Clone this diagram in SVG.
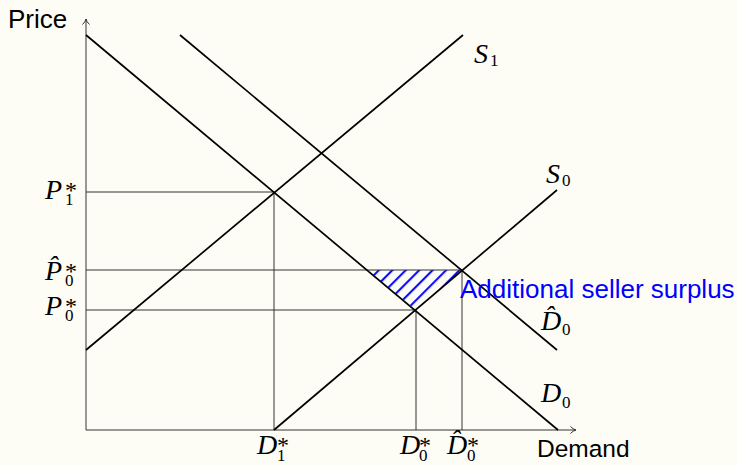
<svg xmlns="http://www.w3.org/2000/svg" width="737" height="465" viewBox="0 0 737 465">
<style>
.thin{stroke:#333;stroke-width:1;fill:none}
.thick{stroke:#000;stroke-width:1.7;fill:none}
.math{font-family:"Liberation Serif","DejaVu Serif",serif;font-size:28px;fill:#000}
.it{font-style:italic}
.sub{font-size:17px;font-style:normal}
.star{font-size:24px;font-style:normal}
.sans{font-family:"Liberation Sans","DejaVu Sans",sans-serif;font-size:26px;fill:#000}
</style>
<defs>
<marker id="arr" markerWidth="10" markerHeight="10" refX="7" refY="5" orient="auto" markerUnits="userSpaceOnUse">
<path d="M1.5,1.5 Q4,4.3 7,5 Q4,5.7 1.5,8.5" fill="none" stroke="#333" stroke-width="1"/>
</marker>
<pattern id="hatch" width="9.5" height="9.5" patternUnits="userSpaceOnUse" patternTransform="rotate(45)">
<line x1="3" y1="0" x2="3" y2="9.5" stroke="#0000ff" stroke-width="2"/>
</pattern>
</defs>
<rect width="737" height="465" fill="#fdfdf6"/>
<g id="hatched-area">
<polygon points="367,270 462,270 416,310" fill="url(#hatch)"/>
</g>
<g id="connectors">
<line class="thin" x1="86" y1="430" x2="86" y2="19" marker-end="url(#arr)"/>
<line class="thin" x1="86" y1="430" x2="576" y2="430" marker-end="url(#arr)"/>
<line class="thin" x1="86" y1="192" x2="274" y2="192"/>
<line class="thin" x1="86" y1="270" x2="462" y2="270"/>
<line class="thin" x1="86" y1="310" x2="416" y2="310"/>
<line class="thin" x1="274" y1="192" x2="274" y2="430"/>
<line class="thin" x1="416" y1="310" x2="416" y2="430"/>
<line class="thin" x1="462" y1="270" x2="462" y2="430"/>
<line class="thick" x1="86" y1="35" x2="558" y2="430"/>
<line class="thick" x1="180" y1="35" x2="557" y2="350"/>
<line class="thick" x1="274" y1="430" x2="557" y2="190"/>
<line class="thick" x1="86" y1="350" x2="463" y2="35"/>
</g>
<g id="axis-labels">
<text class="sans" x="8" y="28">Price</text>
<text class="sans" x="537" y="457" style="font-size:24.5px">Demand</text>
</g>
<g id="label-S1"><text class="math" x="474" y="63"><tspan class="it">S</tspan><tspan class="sub" x="490" y="66">1</tspan></text></g>
<g id="label-S0"><text class="math" x="546" y="183"><tspan class="it">S</tspan><tspan class="sub" x="562" y="186">0</tspan></text></g>
<g id="label-D0hat"><text class="math" x="541" y="330"><tspan class="it">D̂</tspan><tspan class="sub" x="562" y="335">0</tspan></text></g>
<g id="label-D0"><text class="math" x="541" y="402"><tspan class="it">D</tspan><tspan class="sub" x="562" y="408">0</tspan></text></g>
<g id="label-P1"><text class="math" x="45" y="199"><tspan class="it">P</tspan><tspan class="star" x="65" y="198">*</tspan><tspan class="sub" x="65" y="205">1</tspan></text></g>
<g id="label-P0hat"><text class="math" x="45" y="280"><tspan class="it">P̂</tspan><tspan class="star" x="65" y="279">*</tspan><tspan class="sub" x="65" y="286">0</tspan></text></g>
<g id="label-P0"><text class="math" x="45" y="315"><tspan class="it">P</tspan><tspan class="star" x="65" y="314">*</tspan><tspan class="sub" x="65" y="321">0</tspan></text></g>
<g id="label-D1"><text class="math" x="257" y="454"><tspan class="it">D</tspan><tspan class="star" x="277" y="453">*</tspan><tspan class="sub" x="277" y="461">1</tspan></text></g>
<g id="label-D0star"><text class="math" x="400" y="454"><tspan class="it">D</tspan><tspan class="star" x="419" y="453">*</tspan><tspan class="sub" x="419" y="461">0</tspan></text></g>
<g id="label-D0hatstar"><text class="math" x="447" y="454"><tspan class="it">D̂</tspan><tspan class="star" x="467" y="453">*</tspan><tspan class="sub" x="467" y="461">0</tspan></text></g>
<g id="surplus-label">
<text class="sans" x="460" y="298" style="fill:#0000ff">Additional seller surplus</text>
</g>
</svg>
